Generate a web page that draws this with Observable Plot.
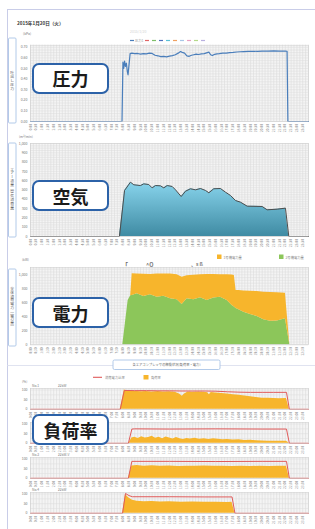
<!DOCTYPE html>
<html><head><meta charset="utf-8">
<script src="https://cdn.jsdelivr.net/npm/d3@7"></script>
<script src="https://cdn.jsdelivr.net/npm/@observablehq/plot@0.6"></script>
<style>
html,body{margin:0;padding:0;background:#fff;}
#root{position:relative;width:315px;height:529px;overflow:hidden;font-family:"Noto Sans CJK JP","Noto Sans",sans-serif;}
.big{position:absolute;left:32px;width:77px;height:31px;box-sizing:border-box;border:2.3px solid #2c62a8;border-radius:7px;background:#fff;display:flex;align-items:center;justify-content:center;font-weight:700;font-size:18px;color:#1b1b1b;font-family:"Noto Sans CJK JP",sans-serif;}
</style></head>
<body><div id="root"></div>
<script>
// ---------- data ----------
const timeTicks = d3.range(0, 24, 0.5);
const pressureTicks = [0, 0.1, 0.2, 0.3, 0.4, 0.5, 0.6, 0.7];
const airTicks = [0, 100, 200, 300, 400, 500, 600, 700, 800, 900, 1000];
const powerTicks = [0, 200, 400, 600, 800, 1000];
const loadTicks = [0, 50, 100];

// [hour, pressure]
const pressure = [[0,0],[7.9,0],[7.98,0.56],[8.05,0.50],[8.12,0.57],[8.2,0.52],[8.28,0.55],[8.36,0.47],[8.42,0.44],[8.5,0.53],[8.6,0.64],[8.75,0.645],[9.0,0.64],[9.25,0.642],[9.5,0.636],[9.75,0.641],[10.0,0.638],[10.25,0.645],[10.5,0.642],[10.75,0.625],[11.0,0.62],[11.25,0.612],[11.5,0.615],[11.75,0.61],[12.0,0.617],[12.25,0.622],[12.5,0.63],[12.75,0.645],[12.95,0.66],[13.1,0.652],[13.3,0.645],[13.5,0.62],[13.7,0.615],[13.9,0.625],[14.1,0.63],[14.3,0.635],[14.5,0.632],[14.75,0.638],[15.0,0.64],[15.2,0.648],[15.4,0.655],[15.55,0.63],[15.7,0.622],[15.9,0.634],[16.1,0.638],[16.3,0.64],[16.6,0.645],[16.9,0.646],[17.2,0.65],[17.5,0.652],[17.8,0.656],[18.1,0.658],[18.4,0.66],[18.8,0.662],[19.2,0.663],[19.6,0.662],[20.0,0.664],[20.5,0.665],[21.0,0.666],[21.5,0.665],[22.0,0.664],[22.15,0.663],[22.22,0],[24,0]];

// [hour, air flow]
const air = [[0,0],[7.68,0],[8.12,495],[8.63,584],[8.92,556],[9.5,548],[9.78,566],[10.21,559],[10.5,523],[10.79,548],[11.22,545],[11.51,523],[11.8,548],[12.23,538],[12.52,502],[13.01,430],[13.38,487],[13.81,513],[14.25,502],[14.68,516],[15.11,495],[15.4,470],[15.82,513],[16.4,516],[16.83,477],[17.27,441],[17.7,387],[18.13,369],[18.71,326],[20.0,323],[20.43,287],[21.3,294],[22.01,305],[22.3,0],[24,0]];

// [hour, green kW, orange kW]
const power = [[0,0,0],[7.97,0,0],[8.43,633,0],[8.65,700,0],[8.78,704,310],[9.21,729,281],[9.78,690,318],[10.36,714,290],[10.94,680,330],[11.51,695,317],[12.09,657,353],[12.66,643,357],[13.09,576,390],[13.52,657,328],[14.1,643,352],[14.68,671,329],[15.25,633,371],[15.82,667,337],[16.4,680,322],[16.98,633,367],[17.41,561,437],[17.6,540,450],[17.75,520,256],[17.99,500,274],[18.42,466,304],[18.99,433,333],[19.57,404,356],[20.14,357,395],[20.72,337,410],[21.3,340,403],[22.01,371,366],[22.39,0,0],[24,0,0]];

// load charts: [hour, %]
const ratio1 = [[0,0],[7.75,0],[8.1,98],[9,97],[10,97],[11,96],[12,96],[13,95],[14,95],[15,95],[16,94],[17,91],[18,89],[19,88],[20,88],[21,88],[22.1,88],[22.35,0],[24,0]];
const rate1 = [[0,0],[7.75,0],[8.1,100],[8.4,95],[8.8,92],[9.2,93],[9.6,91],[10,92],[10.5,90],[11,92],[11.5,90],[12,91],[12.5,89],[12.9,78],[13.1,68],[13.3,80],[13.6,90],[14,89],[14.5,90],[15,88],[15.3,86],[15.45,76],[15.6,87],[16,85],[16.5,82],[17,80],[17.5,76],[18,73],[18.5,69],[19,65],[19.5,61],[20,58],[20.5,57],[21,56],[21.5,55],[22.1,56],[22.35,0],[24,0]];
const ratio2 = [[0,0],[8.45,0],[8.75,74],[9,75],[12,74],[16,75],[20,74],[22.1,74],[22.35,0],[24,0]];
const rate2 = [[0,0],[8.5,0],[8.75,28],[9,32],[9.3,25],[9.6,34],[9.9,27],[10.2,30],[10.5,36],[10.8,26],[11.1,31],[11.4,24],[11.7,33],[12,28],[12.3,22],[12.6,30],[12.9,24],[13.2,20],[13.5,25],[13.8,22],[14.2,26],[14.6,21],[15,24],[15.4,20],[15.8,23],[16.2,21],[16.6,19],[17,20],[17.5,17],[18,18],[18.5,15],[19,16],[19.5,13],[20,12],[20.5,11],[21,10],[21.5,11],[22.1,10],[22.35,0],[24,0]];
const ratio3 = [[0,0],[8.45,0],[8.75,88],[12,88],[16,87],[20,88],[22.1,88],[22.35,0],[24,0]];
const rate3 = [[0,0],[8.45,0],[8.75,64],[9.2,66],[9.8,63],[10.5,65],[11.2,62],[12,64],[12.8,61],[13.5,63],[14.2,62],[15,64],[15.8,62],[16.6,63],[17.4,61],[18.2,62],[19,61],[19.8,63],[20.6,61],[21.4,62],[22.1,63],[22.35,0],[24,0]];
const ratio4 = [[0,0],[7.95,0],[8.2,103],[8.5,92],[8.8,86],[12,86],[15,85],[17.4,85],[17.65,0],[24,0]];
const rate4 = [[0,0],[7.95,0],[8.2,98],[8.5,80],[8.8,68],[9.2,63],[9.8,60],[10.5,61],[11.2,59],[12,60],[13,58],[14,59],[15,57],[16,58],[17,56],[17.4,57],[17.65,0],[24,0]];

// header shown only where the reference shows it (No.2 header is hidden behind the label box there)
const loadCharts = [
  {name: "No.1", kw: "22kW", ratio: ratio1, rate: rate1},
  {name: null, kw: null, ratio: ratio2, rate: rate2},
  {name: "No.3", kw: "22kW-V", ratio: ratio3, rate: rate3},
  {name: "No.4", kw: "22kW", ratio: ratio4, rate: rate4}
];

// ---------- layout ----------
const FONT = "Noto Sans CJK JP, Noto Sans, sans-serif";
const root = document.getElementById("root");
const deco = d3.select(root).append("svg").attr("width", 315).attr("height", 529)
  .style("position", "absolute").style("left", "0px").style("top", "0px")
  .style("font-family", FONT);

const fmtTime = h => `${Math.floor(h)}:${h % 1 ? "30" : "00"}`;

function chart({top, mTop, plotH, mBottom, yDomain, yTicks, yFormat, yGrid, marks}) {
  const svg = Plot.plot({
    width: 315, height: mTop + plotH + mBottom,
    marginTop: mTop, marginBottom: mBottom, marginLeft: 30, marginRight: 7,
    style: {fontFamily: FONT, background: "transparent", overflow: "visible"},
    x: {domain: [0, 24]},
    y: {domain: yDomain},
    marks: [
      Plot.frame({fill: "#f4f4f4", stroke: null}),
      Plot.gridX(d3.range(0, 24.001, 0.25), {stroke: "#d6d6d6", strokeOpacity: 1, strokeWidth: 0.5}),
      Plot.gridY(yGrid, {stroke: "#dcdcdc", strokeOpacity: 1, strokeWidth: 0.5}),
      ...marks,
      Plot.frame({stroke: "#cfcfcf", strokeWidth: 0.6}),
      Plot.axisX(timeTicks, {tickFormat: fmtTime, tickRotate: -90, fontSize: 3.3, tickSize: 0, tickPadding: 2.5, fill: "#8a8a8a", anchor: "bottom", label: null}),
      Plot.axisY(yTicks, {tickFormat: yFormat, fontSize: 3.5, tickSize: 0, tickPadding: 3, fill: "#777", anchor: "left", label: null})
    ]
  });
  svg.style.position = "absolute";
  svg.style.left = "0px";
  svg.style.top = top + "px";
  root.append(svg);
  return svg;
}

// frame lines
deco.append("line").attr("x1", 7).attr("x2", 315).attr("y1", 9.5).attr("y2", 9.5).attr("stroke", "#c9cde8").attr("stroke-width", 1);
deco.append("line").attr("x1", 7.5).attr("x2", 7.5).attr("y1", 9.5).attr("y2", 529).attr("stroke", "#c9cde8").attr("stroke-width", 1);

function txt(x, y, s, size, fill, extra = {}) {
  const t = deco.append("text").attr("x", x).attr("y", y).attr("font-size", size).attr("fill", fill).text(s);
  for (const k in extra) t.attr(k, extra[k]);
  return t;
}
function sideBox(y0, y1, label, fs) {
  deco.append("rect").attr("x", 8.5).attr("y", y0).attr("width", 7.5).attr("height", y1 - y0).attr("rx", 1)
    .attr("fill", "#fff").attr("stroke", "#a9c4e6").attr("stroke-width", 0.9);
  deco.append("text").attr("x", 12.25).attr("y", (y0 + y1) / 2).attr("text-anchor", "middle")
    .style("writing-mode", "vertical-rl").attr("font-size", fs).attr("fill", "#555").text(label);
}

// ---- panel 1 : pressure ----
txt(17, 25, "2015年1月20日（火）", 4.6, "#333", {"font-weight": 600});
txt(23, 35, "(kPa)", 3.4, "#777");
txt(130, 33, "2015/1/20", 3.5, "#d4d4d4");
deco.append("line").attr("x1", 130).attr("x2", 134).attr("y1", 40.5).attr("y2", 40.5).attr("stroke", "#4a7ebb").attr("stroke-width", 1.2);
txt(135, 41.7, "圧力1", 3.3, "#999");
["#e06666","#7fbf6a","#4f6fbf","#5cc0d6","#f0a060","#a7c7e7","#e8a0c0","#b6d98a","#b8b0e0"].forEach((c, i) => {
  deco.append("line").attr("x1", 145 + i * 7).attr("x2", 149 + i * 7).attr("y1", 40.5).attr("y2", 40.5).attr("stroke", c).attr("stroke-width", 1.2);
});
sideBox(38, 123, "吐出し圧力", 3.8);

chart({
  top: 40, mTop: 4.7, plotH: 76.3, mBottom: 12,
  yDomain: [0, 0.72], yTicks: pressureTicks, yFormat: d3.format(".2f"),
  yGrid: d3.range(0, 0.72, 0.025),
  marks: [
    Plot.line(pressure, {x: d => d[0], y: d => d[1], stroke: "#4a7ebb", strokeWidth: 1.2})
  ]
});

// ---- panel 2 : air ----
txt(19, 138, "(m³/min)", 3.3, "#777");
sideBox(143, 237, "エアー流量（空気消費量）", 3.8);
const airSvg = chart({
  top: 140, mTop: 3, plotH: 93, mBottom: 12,
  yDomain: [0, 1000], yTicks: airTicks, yFormat: d => d,
  yGrid: d3.range(0, 1001, 25),
  marks: [
    Plot.areaY(air, {x: d => d[0], y: d => d[1], fill: "#6bbcd6"}),
    Plot.line(air, {x: d => d[0], y: d => d[1], stroke: "#4d4d4d", strokeWidth: 1})
  ]
});
d3.select(airSvg).insert("defs", ":first-child").html(
  '<linearGradient id="airGrad" x1="0" y1="0" x2="0" y2="1"><stop offset="0" stop-color="#88d4ec"/><stop offset="1" stop-color="#3f8ba3"/></linearGradient>');
d3.select(airSvg).selectAll('[fill="#6bbcd6"]').attr("fill", "url(#airGrad)");

// ---- panel 3 : power ----
txt(22, 261, "(kW)", 3.3, "#777");
deco.append("rect").attr("x", 217).attr("y", 254.5).attr("width", 4.5).attr("height", 4.5).attr("fill", "#f7b52c");
txt(223.5, 258.5, "1号機電力量", 3.3, "#888");
deco.append("rect").attr("x", 279).attr("y", 254.5).attr("width", 4.5).attr("height", 4.5).attr("fill", "#8cc65a");
txt(285.5, 258.5, "2号機電力量", 3.3, "#888");
txt(122, 267, "「", 6, "#666", {"font-weight": 700});
txt(146, 267, "^O", 5.5, "#777", {"font-weight": 700});
txt(191, 266, "、s ß", 5, "#777", {"font-weight": 700});
sideBox(269, 346, "全体消費電力（電力量）", 3.8);
chart({
  top: 264, mTop: 3, plotH: 77.3, mBottom: 12,
  yDomain: [0, 1104], yTicks: powerTicks, yFormat: d => d,
  yGrid: d3.range(0, 1104, 40),
  marks: [
    Plot.areaY(power, {x: d => d[0], y1: 0, y2: d => d[1], fill: "#8cc65a"}),
    Plot.areaY(power, {x: d => d[0], y1: d => d[1], y2: d => d[1] + d[2], fill: "#f7b52c"})
  ]
});

// separator + button
deco.append("line").attr("x1", 7).attr("x2", 315).attr("y1", 365.5).attr("y2", 365.5).attr("stroke", "#d8dcec").attr("stroke-width", 0.8);
deco.append("rect").attr("x", 113).attr("y", 360).attr("width", 107).attr("height", 9.5).attr("rx", 1.5)
  .attr("fill", "#fff").attr("stroke", "#a9c4e6").attr("stroke-width", 0.9);
txt(166.5, 366.3, "各エアコンプレッサの稼働状況(負荷率・電力)", 3.3, "#666", {"text-anchor": "middle"});

// ---- panel 4 : load ----
deco.append("line").attr("x1", 93).attr("x2", 102).attr("y1", 377.3).attr("y2", 377.3).attr("stroke", "#e05a5a").attr("stroke-width", 1.1);
txt(105, 378.5, "消費電力比率", 3.3, "#888");
deco.append("rect").attr("x", 143.5).attr("y", 375).attr("width", 5).attr("height", 4.5).attr("fill", "#f7b52c");
txt(151, 378.5, "負荷率", 3.3, "#888");
txt(22, 383, "(%)", 3.3, "#777");

const loadTops = [387.5, 421.9, 456.9, 491.9];
loadCharts.forEach((c, i) => {
  const pt = loadTops[i];
  if (c.name) txt(32, pt - 1, c.name, 3.3, "#777");
  if (c.kw) txt(58, pt - 1, c.kw, 3.3, "#777");
  chart({
    top: pt - 2, mTop: 2, plotH: 20.8, mBottom: 10,
    yDomain: [0, 108], yTicks: loadTicks, yFormat: d => d,
    yGrid: [0, 25, 50, 75, 100],
    marks: [
      Plot.areaY(c.rate, {x: d => d[0], y: d => d[1], fill: "#f7b52c"}),
      Plot.line(c.ratio, {x: d => d[0], y: d => d[1], stroke: "#e05a5a", strokeWidth: 1})
    ]
  });
});

// ---- big overlay labels ----
[["圧力", 62.7], ["空気", 180], ["電力", 297.3], ["負荷率", 414]].forEach(([s, y]) => {
  const d = document.createElement("div");
  d.className = "big";
  d.style.top = y + "px";
  d.textContent = s;
  root.append(d);
});
</script>
</body></html>
